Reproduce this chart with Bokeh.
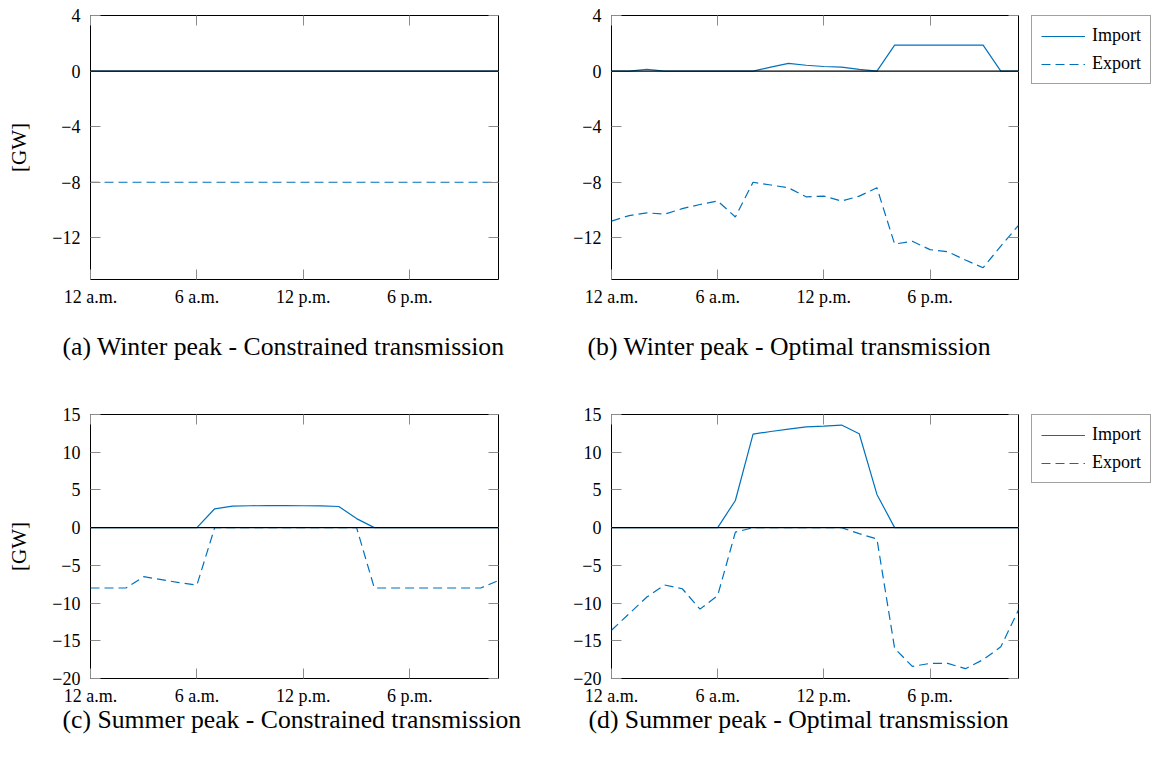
from bokeh.plotting import figure
from bokeh.models import Range1d, FixedTicker, LinearAxis, Span, Legend, LegendItem, Title
from bokeh.layouts import column, row
from bokeh.embed import file_html
from bokeh.resources import INLINE

FONT = "Liberation Serif"
BLUE = "#0072BD"

hours = [0, 1, 2, 3, 4, 5, 6, 7, 8, 9, 10, 11, 12, 13, 14, 15, 16, 17, 18, 19, 20, 21, 22, 23]
x_ticks = [0, 6, 12, 18]
x_tick_labels = ["12 a.m.", "6 a.m.", "12 p.m.", "6 p.m."]

winter_ticks = [4, 0, -4, -8, -12]
summer_ticks = [15, 10, 5, 0, -5, -10, -15, -20]
winter_range = (-15, 4)
summer_range = (-20, 15)

a_import = [0, 0, 0, 0, 0, 0, 0, 0, 0, 0, 0, 0, 0, 0, 0, 0, 0, 0, 0, 0, 0, 0, 0, 0]
a_export = [-8, -8, -8, -8, -8, -8, -8, -8, -8, -8, -8, -8, -8, -8, -8, -8, -8, -8, -8, -8, -8, -8, -8, -8]

b_import = [0, 0, 0.12, 0, 0, 0, 0, 0, 0, 0.28, 0.55, 0.42, 0.33, 0.28, 0.12, 0,
            1.87, 1.87, 1.87, 1.87, 1.87, 1.87, 0, 0]
b_export = [-10.8, -10.4, -10.2, -10.3, -9.9, -9.6, -9.35, -10.5, -8.0, -8.2, -8.4, -9.05,
            -9.0, -9.35, -9.0, -8.4, -12.45, -12.25, -12.85, -13.0, -13.6, -14.15, -12.6, -11.1]

c_import = [0, 0, 0, 0, 0, 0, 0, 2.5, 2.86, 2.9, 2.92, 2.92, 2.9, 2.88, 2.8, 1.2,
            0, 0, 0, 0, 0, 0, 0, 0]
c_export = [-8, -8, -8, -6.5, -6.9, -7.3, -7.6, 0, 0, 0, 0, 0, 0, 0, 0, 0,
            -8, -8, -8, -8, -8, -8, -8, -7.0]

d_import = [0, 0, 0, 0, 0, 0, 0, 3.6, 12.4, 12.75, 13.05, 13.35, 13.45, 13.6, 12.45, 4.4,
            0, 0, 0, 0, 0, 0, 0, 0]
d_export = [-13.6, -11.4, -9.2, -7.6, -8.1, -10.8, -9.0, -0.6, 0, 0, 0, 0, 0, 0, -0.8, -1.5,
            -16.0, -18.4, -18.0, -18.0, -18.7, -17.5, -15.8, -10.9]

captions = ["(a) Winter peak - Constrained transmission",
            "(b) Winter peak - Optimal transmission",
            "(c) Summer peak - Constrained transmission",
            "(d) Summer peak - Optimal transmission"]
legend_labels = ["Import", "Export"]


def fmt(v):
    return ("\u2212" + str(-v)) if v < 0 else str(v)


def style_axis(ax, ticks, labels, show_labels=True):
    ax.ticker = FixedTicker(ticks=ticks)
    ax.major_tick_in = 10
    ax.major_tick_out = 0
    ax.major_tick_line_color = "#8c8c8c"
    ax.major_tick_line_width = 1
    ax.minor_tick_line_color = None
    ax.axis_line_color = None
    if show_labels:
        ax.major_label_overrides = {t: l for t, l in zip(ticks, labels)}
        ax.major_label_text_font = FONT
        ax.major_label_text_font_size = "18px"
        ax.major_label_text_color = "black"
    else:
        ax.major_label_overrides = {t: "" for t in ticks}
        ax.major_label_text_font_size = "1px"
        ax.major_label_standoff = 0


def make_panel(width, height, left, right, top, bottom, yr, yticks, imp, exp,
               caption, cap_offset, cap_standoff, ylabel):
    p = figure(width=width, height=height, x_range=Range1d(0, 23), y_range=Range1d(*yr),
               output_backend="svg", toolbar_location=None,
               min_border_left=left, min_border_right=right,
               min_border_top=top, min_border_bottom=bottom)
    p.title.visible = False
    p.xgrid.visible = False
    p.ygrid.visible = False
    p.outline_line_color = "black"
    p.outline_line_width = 1
    p.background_fill_color = "white"
    p.border_fill_color = "white"

    style_axis(p.xaxis[0], x_ticks, x_tick_labels)
    p.xaxis[0].major_label_standoff = 7
    style_axis(p.yaxis[0], yticks, [fmt(t) for t in yticks])
    p.yaxis[0].major_label_standoff = 10
    if ylabel:
        p.yaxis[0].axis_label = ylabel
        p.yaxis[0].axis_label_text_font = FONT
        p.yaxis[0].axis_label_text_font_size = "21px"
        p.yaxis[0].axis_label_text_font_style = "normal"
        p.yaxis[0].axis_label_text_color = "black"
        p.yaxis[0].axis_label_standoff = 18

    ra = LinearAxis()
    style_axis(ra, yticks, None, show_labels=False)
    p.add_layout(ra, "right")
    ta = LinearAxis()
    style_axis(ta, x_ticks, None, show_labels=False)
    p.add_layout(ta, "above")

    p.line(hours, imp, line_color=BLUE, line_width=1.2)
    p.line(hours, exp, line_color=BLUE, line_width=1.2, line_dash="9 5")
    p.add_layout(Span(location=0, dimension="width", line_color="black", line_width=1.2))

    p.add_layout(Title(text=caption, align="left", offset=cap_offset, standoff=cap_standoff,
                       text_font=FONT, text_font_size="25.7px", text_font_style="normal",
                       text_color="black"), "below")
    return p


def make_legend_fig(width, height, top, imp, exp):
    # legend-only figure: series drawn far outside its visible range, so only the legend shows
    lf = figure(width=width, height=height, output_backend="svg", toolbar_location=None,
                x_range=Range1d(1000, 1001), y_range=Range1d(1000, 1001),
                x_axis_location=None, y_axis_location=None,
                min_border_left=0, min_border_right=0, min_border_top=top, min_border_bottom=0)
    lf.title.visible = False
    lf.xgrid.visible = False
    lf.ygrid.visible = False
    lf.outline_line_color = None
    r1 = lf.line(hours, imp, line_color=BLUE, line_width=1.2)
    r2 = lf.line(hours, exp, line_color=BLUE, line_width=1.2, line_dash="9 5")
    leg = Legend(items=[LegendItem(label=legend_labels[0], renderers=[r1]),
                        LegendItem(label=legend_labels[1], renderers=[r2])],
                 location="top_left")
    leg.label_text_font = FONT
    leg.label_text_font_size = "18px"
    leg.label_text_color = "black"
    leg.glyph_width = 44
    leg.glyph_height = 20
    leg.label_height = 20
    leg.label_standoff = 7
    leg.padding = 9
    leg.spacing = 7
    leg.margin = 0
    leg.border_line_color = "#444444"
    leg.border_line_width = 1
    leg.background_fill_color = "white"
    leg.background_fill_alpha = 1
    lf.add_layout(leg, "center")
    return lf


pa = make_panel(528, 400, 90, 30, 15, 121, winter_range, winter_ticks, a_import, a_export,
                captions[0], -28, 41, "[GW]")
pb = make_panel(503, 400, 83, 13, 15, 121, winter_range, winter_ticks, b_import, b_export,
                captions[1], -24, 41, None)
lb = make_legend_fig(124, 400, 15, b_import, b_export)
pc = make_panel(528, 351, 90, 30, 14, 73, summer_range, summer_ticks, c_import, c_export,
                captions[2], -28, -12, "[GW]")
pd = make_panel(503, 351, 83, 13, 14, 73, summer_range, summer_ticks, d_import, d_export,
                captions[3], -23, -12, None)
ld = make_legend_fig(124, 351, 14, d_import, d_export)

layout = column(row(pa, pb, lb, spacing=0), row(pc, pd, ld, spacing=0), spacing=0)

with open("out.html", "w") as f:
    f.write(file_html(layout, INLINE))
